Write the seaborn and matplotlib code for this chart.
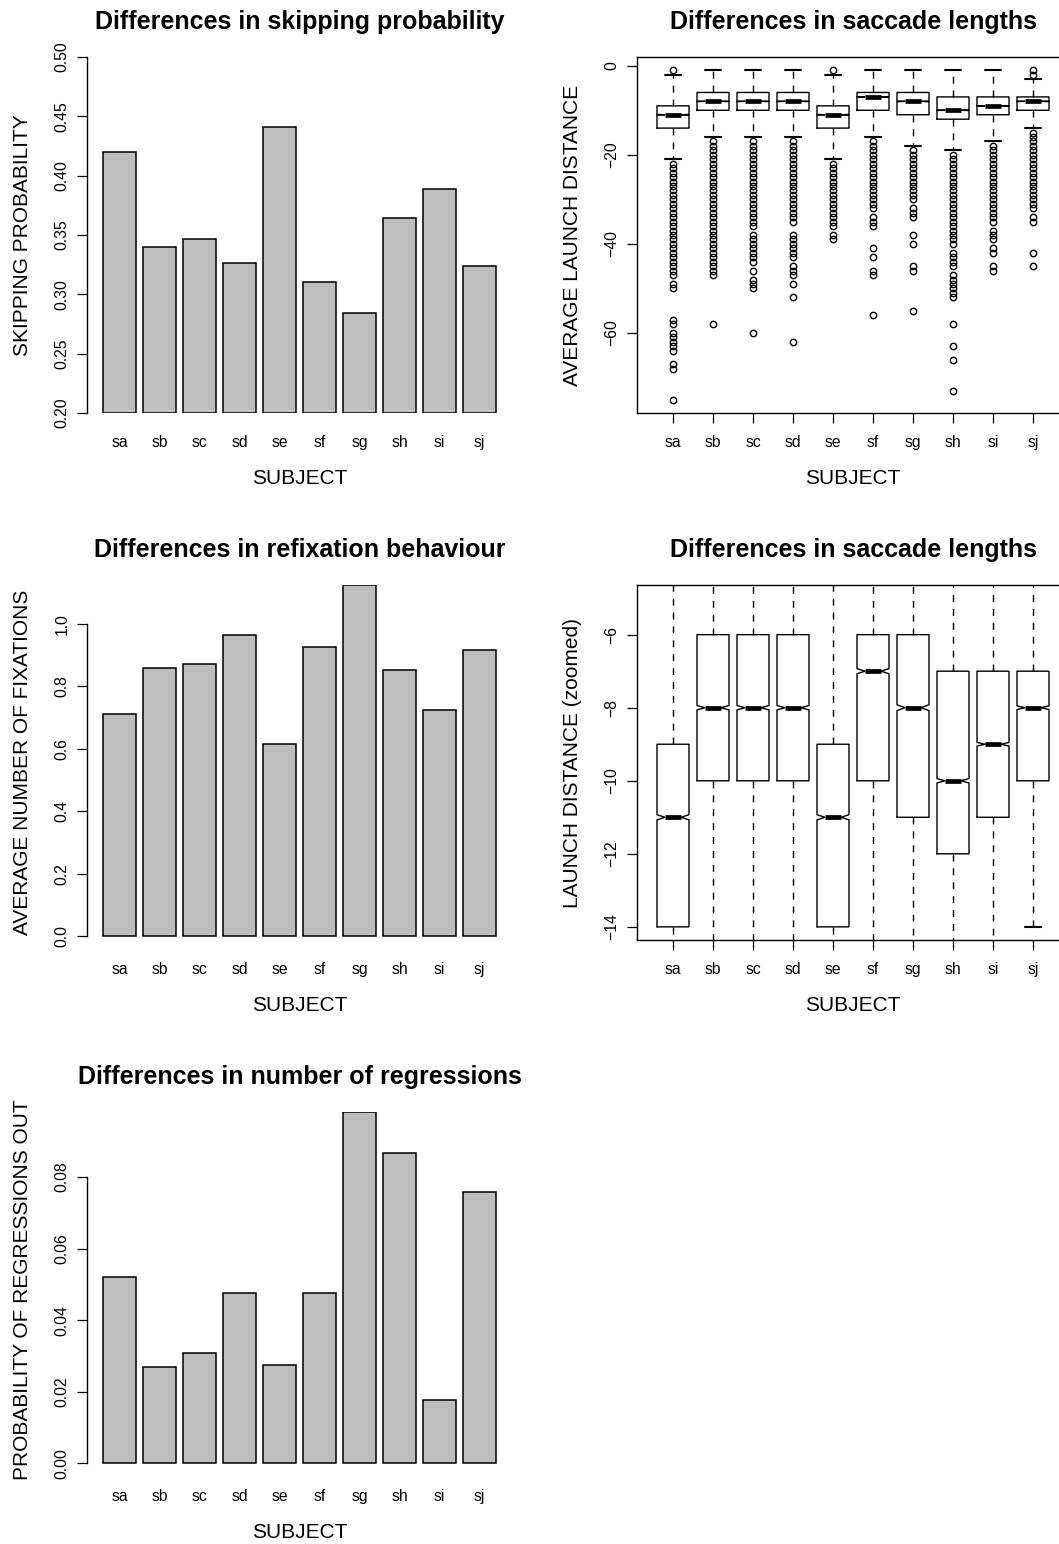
import numpy as np
import pandas as pd
import matplotlib
matplotlib.use("Agg")
import matplotlib.pyplot as plt
import seaborn as sns

sns.set_style("white")
plt.rcParams['font.family'] = ['Liberation Sans', 'DejaVu Sans']
plt.rcParams['text.color'] = 'black'
plt.rcParams['axes.labelcolor'] = 'black'
plt.rcParams['xtick.color'] = 'black'
plt.rcParams['ytick.color'] = 'black'
plt.rcParams['axes.edgecolor'] = 'black'

# ---------------- data ----------------
subjects = ["sa", "sb", "sc", "sd", "se", "sf", "sg", "sh", "si", "sj"]
skip_prob = [0.420, 0.340, 0.347, 0.326, 0.441, 0.310, 0.284, 0.364, 0.389, 0.324]
refix_mean = [0.710, 0.859, 0.871, 0.965, 0.615, 0.926, 1.124, 0.852, 0.725, 0.916]
regress_prob = [0.0521, 0.0269, 0.0308, 0.0475, 0.0274, 0.0476, 0.0981, 0.0867, 0.0178, 0.0759]

# launch distance box statistics
upper_hinge = [-9, -6, -6, -6, -9, -6, -6, -7, -7, -7]
medians = [-11, -8, -8, -8, -11, -7, -8, -10, -9, -8]
lower_hinge = [-14, -10, -10, -10, -14, -10, -11, -12, -11, -10]
upper_whisker = [-2, -1, -1, -1, -2, -1, -1, -1, -1, -3]
lower_whisker = [-21, -16, -16, -16, -21, -16, -18, -19, -17, -14]
notch_half = [0.07, 0.06, 0.06, 0.06, 0.07, 0.07, 0.08, 0.06, 0.05, 0.05]

out_sa = [-1, -22, -23, -24, -25, -26, -27, -28, -29, -30, -31, -32, -33, -34, -35, -36,
          -37, -38, -39, -40, -41, -42, -43, -44, -45, -46, -47, -49, -50, -57, -58,
          -60, -61, -62, -63, -64, -67, -68, -75]
out_sb = [-17, -18, -19, -20, -21, -22, -23, -24, -25, -26, -27, -28, -29, -30, -31, -32,
          -33, -34, -35, -36, -37, -38, -39, -40, -41, -42, -43, -44, -45, -46, -47, -58]
out_sc = [-17, -18, -19, -20, -21, -22, -23, -24, -25, -26, -27, -28, -29, -30, -31, -32,
          -33, -34, -35, -36, -38, -39, -40, -41, -42, -43, -44, -46, -48, -49, -50, -60]
out_sd = [-17, -18, -19, -20, -21, -22, -23, -24, -25, -26, -27, -28, -29, -30, -31, -32,
          -33, -34, -35, -38, -39, -40, -41, -42, -43, -45, -46, -47, -49, -52, -62]
out_se = [-1, -22, -23, -24, -25, -26, -27, -28, -29, -30, -31, -32, -33, -34, -35, -36,
          -38, -39]
out_sf = [-17, -18, -19, -20, -21, -22, -23, -24, -25, -26, -27, -28, -29, -30, -31, -32,
          -34, -35, -36, -41, -43, -46, -47, -56]
out_sg = [-19, -20, -21, -22, -23, -24, -25, -26, -27, -28, -29, -30, -32, -33, -34, -38,
          -40, -45, -46, -55]
out_sh = [-20, -21, -22, -23, -24, -25, -26, -27, -28, -29, -30, -31, -32, -33, -34, -35,
          -36, -37, -38, -39, -40, -42, -43, -44, -45, -47, -48, -49, -50, -51, -52, -58,
          -63, -66, -73]
out_si = [-18, -19, -20, -21, -22, -23, -24, -25, -26, -27, -28, -29, -30, -31, -32, -33,
          -34, -35, -37, -38, -39, -41, -42, -45, -46]
out_sj = [-1, -2, -15, -16, -17, -18, -19, -20, -21, -22, -23, -24, -25, -26, -27, -28,
          -29, -30, -31, -32, -34, -35, -42, -45]
outliers = [out_sa, out_sb, out_sc, out_sd, out_se, out_sf, out_sg, out_sh, out_si, out_sj]

skip_ticks = [0.20, 0.25, 0.30, 0.35, 0.40, 0.45, 0.50]
refix_ticks = [0.0, 0.2, 0.4, 0.6, 0.8, 1.0]
regress_ticks = [0.00, 0.02, 0.04, 0.06, 0.08]
launch_ticks = [0, -20, -40, -60]
zoom_ticks = [-6, -8, -10, -12, -14]

df = pd.DataFrame({"subject": subjects, "skip": skip_prob,
                   "refix": refix_mean, "regress": regress_prob})

# ---------------- layout ----------------
W, H = 1059, 1544
fig = plt.figure(figsize=(W / 100, H / 100), dpi=100)

def rect(l, t, r, b):
    return [l / W, 1 - b / H, (r - l) / W, (b - t) / H]

rows = [(57, 413), (585, 940), (1112, 1467)]
LEFT = (87, 512)
RIGHT = (637, 1069)

TITLE_FS = 18
LAB_FS = 15
TICK_FS = 11.3
BAR_COLOR = "#BEBEBE"


def decorate(ax, title, ylabel, w_px, h_px, boxed):
    ax.set_title(title, fontsize=TITLE_FS, fontweight='bold', color='black',
                 y=1 + 27 / h_px, va='center')
    ax.set_xlabel("SUBJECT", fontsize=LAB_FS, color='black')
    ax.xaxis.set_label_coords(0.5, -65 / h_px)
    ax.xaxis.label.set_va('center')
    ax.set_ylabel(ylabel, fontsize=LAB_FS, color='black')
    ax.yaxis.set_label_coords(-65 / w_px, 0.5)
    ax.yaxis.label.set_va('center')
    ax.tick_params(axis='y', direction='out', length=7.2, width=0.9, pad=5.5,
                   labelsize=TICK_FS, left=True, colors='black')
    if boxed:
        ax.tick_params(axis='x', direction='out', length=7.2, width=0.9, pad=8.8,
                       labelsize=TICK_FS, bottom=True, colors='black')
        for sp in ax.spines.values():
            sp.set_visible(True)
            sp.set_linewidth(1.0)
            sp.set_color('black')
    else:
        ax.tick_params(axis='x', length=0, pad=16.0, labelsize=TICK_FS, colors='black')
        for k in ['top', 'right', 'bottom']:
            ax.spines[k].set_visible(False)
        ax.spines['left'].set_linewidth(1.0)
        ax.spines['left'].set_color('black')
    plt.setp(ax.get_yticklabels(), rotation=90, va='center')


def bar_panel(row, col, title, ylabel, ticks, labels, ylim):
    t, b = rows[row]
    ax = fig.add_axes(rect(LEFT[0], t, LEFT[1], b))
    sns.barplot(data=df, x="subject", y=col, color=BAR_COLOR, saturation=1,
                width=1 / 1.2, edgecolor="black", linewidth=1.1, errorbar=None, ax=ax)
    ax.set_xlim(-0.81, 9.81)
    ax.set_ylim(*ylim)
    # bars start at the lower edge of the plotting range when it is above zero
    base = max(ylim[0], 0)
    for p in ax.patches:
        top = p.get_y() + p.get_height()
        p.set_y(base)
        p.set_height(top - base)
    ax.set_yticks(ticks, labels=labels)
    ax.spines['left'].set_bounds(min(ticks), max(ticks))
    decorate(ax, title, ylabel, LEFT[1] - LEFT[0], b - t, boxed=False)
    return ax


def box_panel(row, title, ylabel, ticks, ylim):
    t, b = rows[row]
    ax = fig.add_axes(rect(RIGHT[0], t, RIGHT[1], b))
    stats = []
    for i, s in enumerate(subjects):
        stats.append(dict(med=medians[i], q1=lower_hinge[i], q3=upper_hinge[i],
                          whislo=lower_whisker[i], whishi=upper_whisker[i],
                          fliers=np.array(outliers[i], dtype=float),
                          cilo=medians[i] - notch_half[i], cihi=medians[i] + notch_half[i],
                          label=s))
    ax.bxp(stats, positions=list(range(1, 11)), widths=0.8, capwidths=0.4,
           shownotches=True, manage_ticks=False,
           boxprops=dict(color='black', linewidth=1.0),
           whiskerprops=dict(color='black', linewidth=1.0, linestyle=(0, (5, 5))),
           capprops=dict(color='black', linewidth=1.5),
           medianprops=dict(color='black', linewidth=3.4, solid_capstyle='butt'),
           flierprops=dict(marker='o', markerfacecolor='none', markeredgecolor='black',
                           markersize=4.6, markeredgewidth=1.0, linestyle='none'))
    ax.set_xlim(0.1, 10.9)
    ax.set_ylim(*ylim)
    ax.set_xticks(list(range(1, 11)), labels=subjects)
    ax.set_yticks(ticks, labels=[f"{v:d}".replace("-", "\u2212") for v in ticks])
    decorate(ax, title, ylabel, RIGHT[1] - RIGHT[0], b - t, boxed=True)
    return ax


bar_panel(0, "skip", "Differences in skipping probability", "SKIPPING PROBABILITY",
          skip_ticks, [f"{v:.2f}" for v in skip_ticks], (0.20, 0.50))
bar_panel(1, "refix", "Differences in refixation behaviour", "AVERAGE NUMBER OF FIXATIONS",
          refix_ticks, [f"{v:.1f}" for v in refix_ticks],
          (-0.01 * max(refix_mean), max(refix_mean)))
bar_panel(2, "regress", "Differences in number of regressions", "PROBABILITY OF REGRESSIONS OUT",
          regress_ticks, [f"{v:.2f}" for v in regress_ticks],
          (-0.01 * max(regress_prob), max(regress_prob)))

all_vals = sum(outliers, []) + lower_whisker + upper_whisker
lo, hi = min(all_vals), max(all_vals)
ext = 0.04 * (hi - lo)
box_panel(0, "Differences in saccade lengths", "AVERAGE LAUNCH DISTANCE",
          launch_ticks, (lo - ext, hi + ext))
zlo, zhi = -14, -5
zext = 0.04 * (zhi - zlo)
box_panel(1, "Differences in saccade lengths", "LAUNCH DISTANCE (zoomed)",
          zoom_ticks, (zlo - zext, zhi + zext))

fig.savefig("out.png", dpi=100, facecolor="white")
